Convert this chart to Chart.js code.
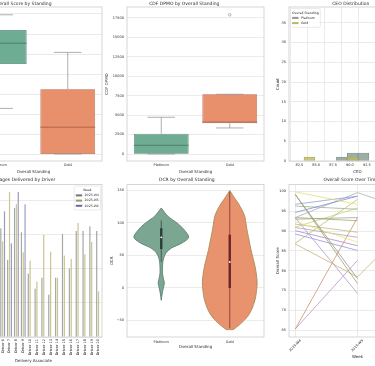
<!DOCTYPE html>
<html>
<head>
<meta charset="utf-8">
<title>Delivery performance</title>
<script src="https://cdn.jsdelivr.net/npm/chart.js@4.4.1/dist/chart.umd.min.js"></script>
<style>
  html, body { margin: 0; padding: 0; background: #fff; }
  body { width: 375px; height: 366px; position: relative; overflow: hidden; }
  canvas { position: absolute; }
</style>
</head>
<body>
<canvas id="scoreBox" width="168" height="176" style="left:-60px;top:0px"></canvas>
<canvas id="dpmoBox" width="173" height="176" style="left:97px;top:0px"></canvas>
<canvas id="ceoHist" width="168" height="176" style="left:264px;top:0px"></canvas>
<canvas id="packagesBar" width="168" height="189" style="left:-60px;top:177px"></canvas>
<canvas id="dcrViolin" width="173" height="189" style="left:97px;top:177px"></canvas>
<canvas id="scoreLines" width="168" height="189" style="left:264px;top:177px"></canvas>
<script>
// ---------- data ----------
const standings = ['Platinum', 'Gold'];

// Overall Score box plot
const scoreLow = [76.4, 65.0];
const scoreQ1 = [87.5, 65.0];
const scoreMedian = [92.7, 71.7];
const scoreQ3 = [96.0, 81.2];
const scoreHigh = [99.8, 90.4];
const scoreTicks = [65, 70, 75, 80, 85, 90, 95, 100];

// CDF DPMO box plot
const dpmoLow = [0, 3350];
const dpmoQ1 = [0, 3950];
const dpmoMedian = [1120, 4100];
const dpmoQ3 = [2610, 7680];
const dpmoHigh = [4720, 7680];
const dpmoOutliers = [[], [17900]];
const dpmoTicks = [0, 2500, 5000, 7500, 10000, 12500, 15000, 17500];

// CEO histogram (visible bins)
const ceoBinStart = [83.2, 84.8, 86.4, 88.0, 89.6, 91.2];
const ceoBinWidth = 1.6;
const ceoPlatinum = [0, 0, 0, 1, 2, 2];
const ceoGold = [1, 0, 0, 0, 1, 0];
const ceoTicks = [82.5, 85, 87.5, 90, 92.5, 95, 97.5, 100];
const countTicks = [0, 5, 10, 15, 20, 25, 30, 35];

// Packages delivered
const drivers = ['Driver 1', 'Driver 2', 'Driver 3', 'Driver 4', 'Driver 5', 'Driver 6', 'Driver 7',
  'Driver 8', 'Driver 9', 'Driver 10', 'Driver 11', 'Driver 12', 'Driver 13', 'Driver 14',
  'Driver 15', 'Driver 16', 'Driver 17', 'Driver 18', 'Driver 19', 'Driver 20'];
const weeks = ['2025-W4', '2025-W5', '2025-W6'];
const packagesW4 = [null, null, null, null, null, 159, 113, 189, 153, 93, 71, 87, 62, 87, 151, 100, 155, 155, 162, 155];
const packagesW5 = [null, null, null, null, null, 140, 212, 194, 124, 112, 81, 149, 125, 87, 119, 114, 167, 121, 139, 67];
const packagesW6 = [null, null, null, null, null, 184, 137, 212, 194, null, null, null, null, null, null, null, null, null, null, null];
const packageTicks = [0, 50, 100, 150, 200];

// DCR violins: outline (DCR level, half width) and inner box
const platinumDcrLevels = [123, 110, 100, 90, 78, 69, 61.5, 54, 46, 38.5, 30, 23, 15, 7.7, 0, -7.7, -19];
const platinumDcrWidth = [0, 0.10, 0.23, 0.33, 0.40, 0.30, 0.15, 0.07, 0.035, 0.022, 0.018, 0.018, 0.03, 0.045, 0.03, 0.015, 0];
const goldDcrLevels = [150, 140, 131, 120, 110, 97, 85, 72, 59, 46, 33, 20, 7.7, -5, -18, -33, -44, -54, -60, -64, -64];
const goldDcrWidth = [0, 0.06, 0.12, 0.18, 0.22, 0.24, 0.26, 0.285, 0.31, 0.34, 0.37, 0.39, 0.40, 0.39, 0.37, 0.32, 0.26, 0.17, 0.1, 0.05, 0];
const dcrLow = [40, -62];
const dcrQ1 = [60, 0];
const dcrMedian = [78, 40];
const dcrQ3 = [92, 82];
const dcrHigh = [104, 148];
const dcrTicks = [-50, 0, 50, 100, 150];

// Overall score per driver and week
const overallW4 = [99.9, 99.25, 99.25, 96.75, 94.7, 93.4, 93.4, 93.0, 92.4, 91.75, 90.9, 90.1, 89.25, 86.9, 86.75, 65.25, 65.25, 93.4, 96.3, 91.0];
const overallW5 = [96.75, 76.75, 78.0, 98.8, 98.8, 99.7, 92.6, 93.4, 87.2, 89.7, 88.4, 86.3, 85.1, 98.0, 78.4, 93.4, 82.6, 74.25, 95.5, 95.8];
const overallW6 = [null, null, null, null, null, 94.4, null, null, null, null, null, null, null, null, 94.2, null, null, null, null, null];

// ---------- styles ----------
const FONT = 'DejaVu Sans';
const TXT = '#2b2b2b';
const GRID = '#dedede';
const SPINE = '#cccccc';
const PLAT = 'rgb(110,172,148)', PLAT_LINE = 'rgb(78,128,108)';
const GOLD = 'rgb(232,143,108)', GOLD_LINE = 'rgb(176,102,74)';
const WHISKER = 'rgb(140,140,140)';
const weekColors = ['rgb(150,158,150)', 'rgb(198,190,128)', 'rgb(138,138,184)'];
const weekEdges = ['rgb(112,118,112)', 'rgb(160,152,96)', 'rgb(104,104,150)'];
const lineColors = ['rgb(226,226,112)', 'rgb(160,160,112)', 'rgb(150,150,140)', 'rgb(150,160,200)', 'rgb(130,140,210)',
  'rgb(165,178,178)', 'rgb(170,170,100)', 'rgb(160,165,155)', 'rgb(230,230,120)', 'rgb(190,185,130)',
  'rgb(170,165,175)', 'rgb(170,140,200)', 'rgb(150,150,220)', 'rgb(185,190,110)', 'rgb(200,180,120)',
  'rgb(200,150,110)', 'rgb(190,150,200)', 'rgb(180,150,210)', 'rgb(160,180,150)', 'rgb(200,210,120)'];

Chart.defaults.font.family = FONT;
Chart.defaults.color = TXT;

const TOP_TITLE = { top: 1.3, bottom: 0.3 };
const BOTTOM_TITLE = { top: 0.3, bottom: 1.8 };

const framePlugin = {
  id: 'frame',
  afterDatasetsDraw(chart) {
    const a = chart.chartArea, c = chart.ctx;
    c.save();
    c.strokeStyle = SPINE;
    c.lineWidth = 0.8;
    c.strokeRect(a.left, a.top, a.right - a.left, a.bottom - a.top);
    c.restore();
  }
};

function legendPlugin(title, labels, colors, side) {
  return {
    id: 'miniLegend',
    afterDraw(chart) {
      const c = chart.ctx, a = chart.chartArea;
      const fs = 3.2, row = 5.2, pad = 1.6, handle = 6.4, gap = 2.4;
      c.save();
      c.font = fs + 'px ' + FONT;
      const textW = Math.max(...labels.map(l => c.measureText(l).width));
      const w = Math.max(c.measureText(title).width, handle + gap + textW) + 2 * pad;
      const h = row * (labels.length + 1) + 2 * pad;
      const x = side === 'right' ? a.right - w - 1.5 : a.left + 1.5;
      const y = a.top + 1.5;
      c.fillStyle = 'rgba(255,255,255,0.85)';
      c.strokeStyle = '#d6d6d6';
      c.lineWidth = 0.5;
      c.beginPath();
      c.roundRect(x, y, w, h, 1);
      c.fill();
      c.stroke();
      c.textBaseline = 'middle';
      c.fillStyle = TXT;
      c.textAlign = 'center';
      c.fillText(title, x + w / 2, y + pad + row / 2);
      c.textAlign = 'left';
      labels.forEach((l, i) => {
        const cy = y + pad + row * (i + 1.5);
        c.fillStyle = colors[i];
        c.fillRect(x + pad, cy - 1, handle, 2);
        c.fillStyle = TXT;
        c.fillText(l, x + pad + handle + gap, cy);
      });
      c.restore();
    }
  };
}

// whiskers, caps, medians and fliers on top of the floating-bar boxes
function whiskerPlugin(low, q1, med, q3, high, outliers, medColors) {
  return {
    id: 'whiskers',
    afterDatasetsDraw(chart) {
      const xs = chart.scales.x, ys = chart.scales.y, c = chart.ctx;
      const bars = chart.getDatasetMeta(0).data;
      const seg = (x1, v1, x2, v2) => {
        c.beginPath();
        c.moveTo(x1, ys.getPixelForValue(v1));
        c.lineTo(x2, ys.getPixelForValue(v2));
        c.stroke();
      };
      c.save();
      med.forEach((m, i) => {
        const cx = xs.getPixelForValue(i), hw = bars[i].width / 2;
        c.strokeStyle = WHISKER;
        c.lineWidth = 0.7;
        seg(cx, q3[i], cx, high[i]);
        seg(cx, q1[i], cx, low[i]);
        seg(cx - hw / 2, high[i], cx + hw / 2, high[i]);
        seg(cx - hw / 2, low[i], cx + hw / 2, low[i]);
        c.strokeStyle = medColors[i];
        c.lineWidth = 1;
        seg(cx - hw, m, cx + hw, m);
        outliers[i].forEach(v => {
          c.beginPath();
          c.arc(cx, ys.getPixelForValue(v), 1.3, 0, Math.PI * 2);
          c.strokeStyle = WHISKER;
          c.lineWidth = 0.6;
          c.stroke();
        });
      });
      c.restore();
    }
  };
}

function opts(title, titlePad, padLeft, padBottom, scales) {
  return {
    responsive: false,
    animation: false,
    devicePixelRatio: 1,
    layout: { autoPadding: false, padding: { left: padLeft, right: 6, top: 0, bottom: padBottom } },
    plugins: {
      legend: { display: false },
      tooltip: { enabled: false },
      title: { display: true, text: title, color: TXT, font: { family: FONT, size: 4.5, weight: 'normal' }, padding: titlePad }
    },
    scales: scales
  };
}

function yAxis(min, max, ticks, title, width, fmt) {
  return {
    type: 'linear',
    min: min,
    max: max,
    afterBuildTicks: s => { s.ticks = ticks.map(v => ({ value: v })); },
    afterFit: s => { s.width = width; },
    grid: { color: GRID, lineWidth: 0.6, drawTicks: false },
    border: { display: false },
    ticks: { font: { family: FONT, size: 3.5 }, color: TXT, padding: 3, callback: fmt || (v => String(v)) },
    title: { display: true, text: title, color: TXT, font: { family: FONT, size: 4 }, padding: 0 }
  };
}

function xAxis(title, height, pad, rotation, shift) {
  return {
    afterFit: s => { s.height = height; },
    grid: { display: false, drawTicks: false },
    border: { display: false },
    ticks: { font: { family: FONT, size: 3.5 }, color: TXT, padding: pad, minRotation: rotation,
      maxRotation: rotation, autoSkip: false, labelOffset: shift || 0 },
    title: { display: true, text: title, color: TXT, font: { family: FONT, size: 4 }, padding: 0 }
  };
}

// ---------- Overall Score by Standing ----------
new Chart(document.getElementById('scoreBox'), {
  type: 'bar',
  data: {
    labels: standings,
    datasets: [{
      data: standings.map((s, i) => [scoreQ1[i], scoreQ3[i]]),
      backgroundColor: [PLAT, GOLD],
      borderColor: [PLAT_LINE, GOLD_LINE],
      borderWidth: 0.8,
      borderSkipped: false,
      categoryPercentage: 0.8,
      barPercentage: 1
    }]
  },
  options: opts('Overall Score by Standing', TOP_TITLE, 2.6, 2, {
    x: xAxis('Overall Standing', 13, 2.2, 0),
    y: yAxis(63.25, 101.75, scoreTicks, 'Overall Score', 22.4)
  }),
  plugins: [framePlugin, whiskerPlugin(scoreLow, scoreQ1, scoreMedian, scoreQ3, scoreHigh, [[], []], [PLAT_LINE, GOLD_LINE])]
});

// ---------- CDF DPMO by Overall Standing ----------
new Chart(document.getElementById('dpmoBox'), {
  type: 'bar',
  data: {
    labels: standings,
    datasets: [{
      data: standings.map((s, i) => [dpmoQ1[i], dpmoQ3[i]]),
      backgroundColor: [PLAT, GOLD],
      borderColor: [PLAT_LINE, GOLD_LINE],
      borderWidth: 0.8,
      borderSkipped: false,
      categoryPercentage: 0.8,
      barPercentage: 1
    }]
  },
  options: opts('CDF DPMO by Overall Standing', TOP_TITLE, 7.6, 2, {
    x: xAxis('Overall Standing', 13, 2.2, 0),
    y: yAxis(-900, 18900, dpmoTicks, 'CDF DPMO', 22.4)
  }),
  plugins: [framePlugin, whiskerPlugin(dpmoLow, dpmoQ1, dpmoMedian, dpmoQ3, dpmoHigh, dpmoOutliers, [PLAT_LINE, GOLD_LINE])]
});

// ---------- CEO Distribution ----------
const ceoX = Object.assign(xAxis('CEO', 13, 2.2, 0), {
  type: 'linear',
  min: 82.24,
  max: 100,
  afterBuildTicks: s => { s.ticks = ceoTicks.map(v => ({ value: v })); }
});
ceoX.grid = { color: GRID, lineWidth: 0.6, drawTicks: false };
ceoX.ticks.callback = v => v.toFixed(1);

new Chart(document.getElementById('ceoHist'), {
  type: 'bar',
  data: {
    datasets: [
      {
        label: 'Gold',
        data: ceoBinStart.map((b, i) => ({ x: b + ceoBinWidth / 2, y: ceoGold[i] })),
        backgroundColor: 'rgba(188,184,96,0.8)',
        borderColor: 'rgba(150,148,80,0.8)',
        borderWidth: 0.4,
        order: 0
      },
      {
        label: 'Platinum',
        data: ceoBinStart.map((b, i) => ({ x: b + ceoBinWidth / 2, y: ceoPlatinum[i] })),
        backgroundColor: 'rgba(140,160,150,0.85)',
        borderColor: 'rgba(110,128,120,0.85)',
        borderWidth: 0.4,
        order: 1
      }
    ]
  },
  options: Object.assign(opts('CEO Distribution', TOP_TITLE, 11.6, 2, {
    x: ceoX,
    y: yAxis(0, 39, countTicks, 'Count', 13.4)
  }), {
    datasets: { bar: { grouped: false, barPercentage: 1, categoryPercentage: 1 } }
  }),
  plugins: [framePlugin, legendPlugin('Overall Standing', standings, ['rgb(150,150,150)', 'rgb(188,184,96)'], 'left')]
});

// ---------- Packages Delivered by Driver ----------
new Chart(document.getElementById('packagesBar'), {
  type: 'bar',
  data: {
    labels: drivers,
    datasets: [packagesW4, packagesW5, packagesW6].map((vals, i) => ({
      label: weeks[i],
      data: vals,
      backgroundColor: weekColors[i],
      borderColor: weekEdges[i],
      borderWidth: 0.3,
      borderSkipped: false,
      categoryPercentage: 0.8,
      barPercentage: 0.8
    }))
  },
  options: opts('Packages Delivered by Driver', BOTTOM_TITLE, 2.6, 2.6, {
    x: xAxis('Delivery Associate', 26.4, 2, 90),
    y: yAxis(0, 223, packageTicks, 'Packages Delivered', 22.4)
  }),
  plugins: [framePlugin, legendPlugin('Week', weeks, weekEdges, 'right')]
});

// ---------- DCR by Overall Standing ----------
function violinShape(center, levels, widths) {
  const right = levels.map((v, i) => ({ x: center + widths[i], y: v }));
  const left = levels.map((v, i) => ({ x: center - widths[i], y: v })).reverse();
  return right.concat(left);
}
const innerColors = ['rgb(45,60,55)', 'rgb(110,35,40)'];
const dcrDatasets = [
  { data: violinShape(0, platinumDcrLevels, platinumDcrWidth), borderColor: 'rgb(96,128,112)', backgroundColor: 'rgb(122,166,146)', order: 3 },
  { data: violinShape(1, goldDcrLevels, goldDcrWidth), borderColor: 'rgb(170,140,86)', backgroundColor: 'rgb(232,146,110)', order: 3 }
].map(d => Object.assign(d, { fill: 'shape', tension: 0.3, borderWidth: 0.9, pointRadius: 0 }));
standings.forEach((s, i) => {
  dcrDatasets.push({ data: [{ x: i, y: dcrLow[i] }, { x: i, y: dcrHigh[i] }], borderColor: innerColors[i], borderWidth: 0.7, pointRadius: 0, order: 2 });
  dcrDatasets.push({ data: [{ x: i, y: dcrQ1[i] }, { x: i, y: dcrQ3[i] }], borderColor: innerColors[i], borderWidth: 2.4, pointRadius: 0, order: 1 });
  dcrDatasets.push({ data: [{ x: i, y: dcrMedian[i] }], showLine: false, pointRadius: 0.9, pointBackgroundColor: '#ffffff', pointBorderWidth: 0, order: 0 });
});
const dcrX = Object.assign(xAxis('Overall Standing', 12.4, 3.2, 0), {
  type: 'linear',
  min: -0.5,
  max: 1.5,
  afterBuildTicks: s => { s.ticks = standings.map((n, i) => ({ value: i })); }
});
dcrX.ticks.callback = v => standings[v];

new Chart(document.getElementById('dcrViolin'), {
  type: 'line',
  data: { datasets: dcrDatasets },
  options: opts('DCR by Overall Standing', BOTTOM_TITLE, 12.6, 16.6, {
    x: dcrX,
    y: yAxis(-75.4, 159.2, dcrTicks, 'DCR', 17.4, v => (v < 0 ? '\u2212' + Math.abs(v) : String(v)))
  }),
  plugins: [framePlugin]
});

// ---------- Overall Score Over Time ----------
const weekX = Object.assign(xAxis('Week', 22.4, 1.5, 45, 5.5), {
  type: 'linear',
  min: -0.1,
  max: 2.1,
  afterBuildTicks: s => { s.ticks = weeks.map((w, i) => ({ value: i })); }
});
weekX.grid = { color: GRID, lineWidth: 0.6, drawTicks: false };
weekX.ticks.callback = v => weeks[v];

new Chart(document.getElementById('scoreLines'), {
  type: 'line',
  data: {
    datasets: drivers.map((d, i) => ({
      label: d,
      data: [overallW4[i], overallW5[i], overallW6[i]].map((v, j) => ({ x: j, y: v })),
      borderColor: lineColors[i],
      borderWidth: 0.8,
      pointRadius: 0,
      spanGaps: false
    }))
  },
  options: opts('Overall Score Over Time', BOTTOM_TITLE, 11.6, 6.6, {
    x: weekX,
    y: yAxis(63.25, 101.75, scoreTicks, 'Overall Score', 13.4)
  }),
  plugins: [framePlugin]
});
</script>
</body>
</html>
